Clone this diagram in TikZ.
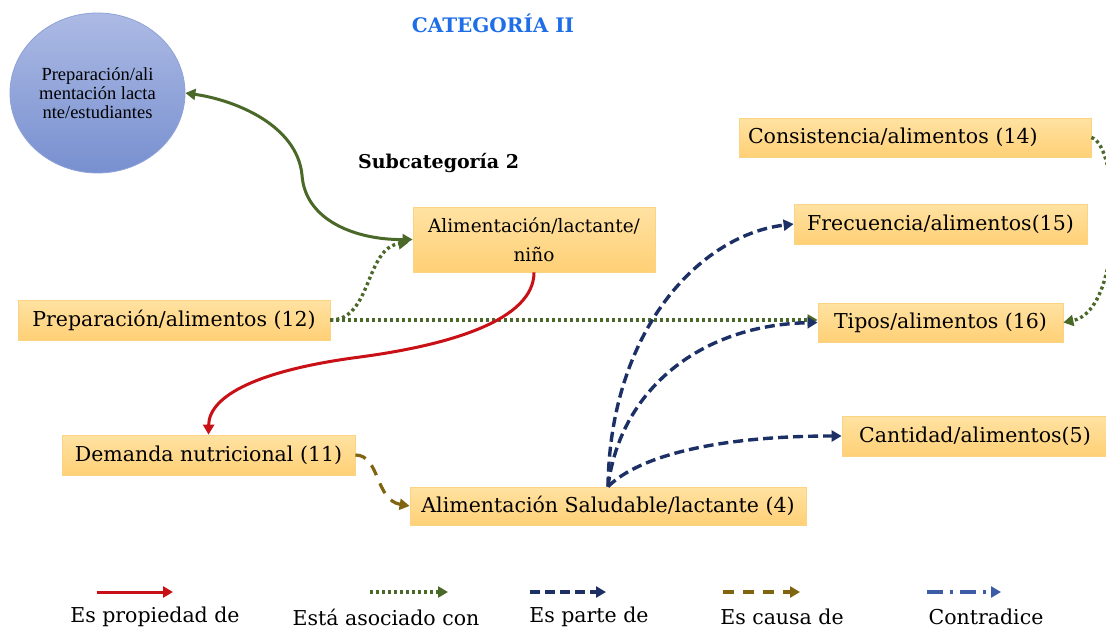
\documentclass[tikz,border=0pt]{standalone}
\usepackage{fontspec}
\setmainfont{DejaVu Serif}
\newfontfamily\circfont{Liberation Serif}
\usetikzlibrary{arrows.meta,shapes.geometric,calc}
\definecolor{boxtop}{RGB}{255,226,162}
\definecolor{boxbot}{RGB}{255,208,118}
\definecolor{boxedge}{RGB}{250,212,130}
\definecolor{circtop}{RGB}{172,186,228}
\definecolor{circbot}{RGB}{120,144,208}
\definecolor{circedge}{RGB}{142,162,216}
\definecolor{relred}{RGB}{200,16,22}
\definecolor{relgreen}{RGB}{74,104,40}
\definecolor{relnavy}{RGB}{28,48,102}
\definecolor{relolive}{RGB}{128,100,16}
\definecolor{relblue}{RGB}{60,92,165}
\definecolor{titleblue}{RGB}{30,110,232}
\begin{document}
\begin{tikzpicture}[x=1pt,y=-1pt,
  box/.style={draw=boxedge, line width=0.8pt, top color=boxtop, bottom color=boxbot,
    inner sep=0pt, font=\fontsize{20.5}{24}\selectfont},
  arrowtip/.style={-{Triangle[length=10pt,width=11pt]}},
  propiedad/.style={draw=relred, line width=3pt, arrowtip},
  asociado/.style={draw=relgreen, line width=3.4pt, dash pattern=on 3pt off 3pt, arrowtip},
  parte/.style={draw=relnavy, line width=3.4pt, dash pattern=on 10pt off 5pt, arrowtip},
  causa/.style={draw=relolive, line width=3.2pt, dash pattern=on 11pt off 9pt, arrowtip},
  contra/.style={draw=relblue, line width=3.2pt, dash pattern=on 16pt off 7pt on 3pt off 7pt, arrowtip},
  legendtext/.style={font=\fontsize{20.5}{24}\selectfont, inner sep=0pt}
]
\useasboundingbox (0,0) rectangle (1106,632);
\fill[white] (0,0) rectangle (1106,632);

% title and subtitle
\node[font=\bfseries\fontsize{20}{22}\selectfont, text=titleblue, inner sep=0pt] (title) at (493,23) {CATEGORÍA II};
\node[font=\bfseries\fontsize{19}{22}\selectfont, anchor=west, inner sep=0pt] (sub) at (358,163) {Subcategoría 2};

% circle
\node[ellipse, minimum width=175pt, minimum height=160pt, draw=circedge, line width=0.8pt,
  top color=circtop, bottom color=circbot, inner sep=0pt, align=center,
  font=\circfont\fontsize{18.5}{19}\selectfont] (circ) at (97.5,93)
  {Preparación/ali\\mentación lacta\\nte/estudiantes};

% boxes
\node[box, minimum width=242pt, minimum height=65pt, align=center, font=\fontsize{18.5}{29}\selectfont] (alc) at (534,239.5) {Alimentación/lactante/\\niño};
\node[box, minimum width=312pt, minimum height=40pt] (prep) at (174,320) {Preparación/alimentos (12)};
\node[box, minimum width=293pt, minimum height=40pt] (dem) at (208.5,455) {Demanda nutricional (11)};
\node[box, minimum width=396pt, minimum height=38pt] (sal) at (608,506) {Alimentación Saludable/lactante (4)};
\node[box, minimum width=352pt, minimum height=39pt, text width=334pt, align=left] (con) at (915,137.5) {Consistencia/alimentos (14)};
\node[box, minimum width=293pt, minimum height=40pt] (fre) at (940.5,224) {Frecuencia/alimentos(15)};
\node[box, minimum width=245pt, minimum height=39pt] (tipo) at (940.5,322.5) {Tipos/alimentos (16)};
\node[box, minimum width=266pt, minimum height=40pt] (can) at (975,436) {Cantidad/alimentos(5)};

% connectors
\draw[relgreen, line width=3pt, {Triangle[length=10pt,width=11pt]}-{Triangle[length=10pt,width=11pt]}]
  (circ.east) .. controls (235,100) and (297,125) .. (302,175)
  .. controls (305,220) and (355,240) .. (alc.west);
\draw[asociado] (prep.east) .. controls (372,320) and (365,248) .. ($(alc.west)+(-4,3)$);
\draw[asociado] (prep.east) -- (prep.east -| tipo.west);
\draw[asociado] (con.east) .. controls (1120,145) and (1125,310) .. (tipo.east);
\draw[propiedad] (alc.south) .. controls (534,320) and (450,345) .. (360,357)
  .. controls (260,370) and (209,395) .. (dem.north);
\draw[causa] (dem.east) .. controls (380,455) and (375,500) .. (sal.west);
\draw[parte] (sal.north) .. controls (610,330) and (700,235) .. (fre.west);
\draw[parte] (sal.north) .. controls (620,390) and (700,325) .. (tipo.west);
\draw[parte] (sal.north) .. controls (640,455) and (720,436) .. (can.west);

% legend
\coordinate (l1a) at (97,592);  \coordinate (l1b) at (173,592);
\coordinate (l2a) at (370,592); \coordinate (l2b) at (448,592);
\coordinate (l3a) at (530,592); \coordinate (l3b) at (606,592);
\coordinate (l4a) at (723,592); \coordinate (l4b) at (800,592);
\coordinate (l5a) at (927,592); \coordinate (l5b) at (1001,592);
\draw[propiedad] (l1a) -- (l1b);
\draw[asociado] (l2a) -- (l2b);
\draw[parte] (l3a) -- (l3b);
\draw[causa] (l4a) -- (l4b);
\draw[contra] (l5a) -- (l5b);
\node[legendtext] (t1) at (155,617) {Es propiedad de};
\node[legendtext] (t2) at (386,617) {Está asociado con};
\node[legendtext] (t3) at (589,617) {Es parte de};
\node[legendtext] (t4) at (782,617) {Es causa de};
\node[legendtext] (t5) at (986,617) {Contradice};
\end{tikzpicture}
\end{document}
